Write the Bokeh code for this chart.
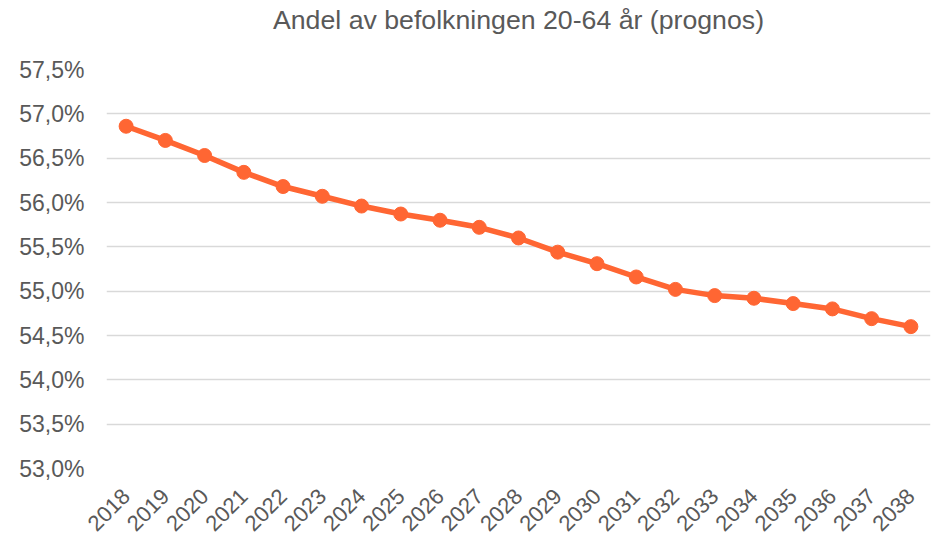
from math import pi
from bokeh.plotting import figure
from bokeh.models import FixedTicker, Range1d, Title
from bokeh.embed import file_html
from bokeh.resources import INLINE

years = [str(y) for y in range(2018, 2039)]
share = [56.86, 56.70, 56.53, 56.34, 56.18, 56.07, 55.96, 55.87, 55.80, 55.72,
         55.60, 55.44, 55.31, 55.16, 55.02, 54.95, 54.92, 54.86, 54.80, 54.69, 54.60]
y_ticks = [53.0, 53.5, 54.0, 54.5, 55.0, 55.5, 56.0, 56.5, 57.0, 57.5]
y_tick_labels = ["53,0%", "53,5%", "54,0%", "54,5%", "55,0%", "55,5%",
                 "56,0%", "56,5%", "57,0%", "57,5%"]
title = "Andel av befolkningen 20-64 år (prognos)"

FONT = "Liberation Sans"
TXT = "#595959"
ORANGE = "#FF6633"

p = figure(x_range=years, y_range=Range1d(53.0, 57.5), width=936, height=540,
           output_backend="svg", toolbar_location=None,
           min_border_left=106, min_border_right=6, min_border_top=68,
           min_border_bottom=68)
p.title.text = title
p.title.align = "center"
p.title.text_font = FONT
p.title.text_font_size = "26.7px"
p.title.text_font_style = "normal"
p.title.text_color = TXT
p.title.offset = -40
p.title.standoff = 5
p.outline_line_color = None

# blank spacer between the title and the plot frame
p.add_layout(Title(text=" ", text_font=FONT, text_font_size="20px", standoff=8), "above")

p.line(years, share, line_color=ORANGE, line_width=5.5)
p.scatter(years, share, size=14, fill_color=ORANGE, line_color=ORANGE)

p.yaxis.ticker = FixedTicker(ticks=y_ticks)
p.yaxis.major_label_overrides = {t: l for t, l in zip(y_ticks, y_tick_labels)}
for ax in (p.xaxis[0], p.yaxis[0]):
    ax.axis_line_color = None
    ax.major_tick_line_color = None
    ax.minor_tick_line_color = None
    ax.major_tick_out = 0
    ax.major_tick_in = 0
    ax.major_label_text_font = FONT
    ax.major_label_text_color = TXT
p.yaxis.major_label_text_font_size = "23px"
p.yaxis.major_label_standoff = 22
p.xaxis.major_label_text_font_size = "22px"
p.xaxis.major_label_orientation = pi / 4
p.xaxis.major_label_standoff = 24

p.xgrid.grid_line_color = None
p.ygrid.grid_line_color = "#D9D9D9"
p.ygrid.grid_line_width = 1.5

open("out.html", "w").write(file_html(p, INLINE))
